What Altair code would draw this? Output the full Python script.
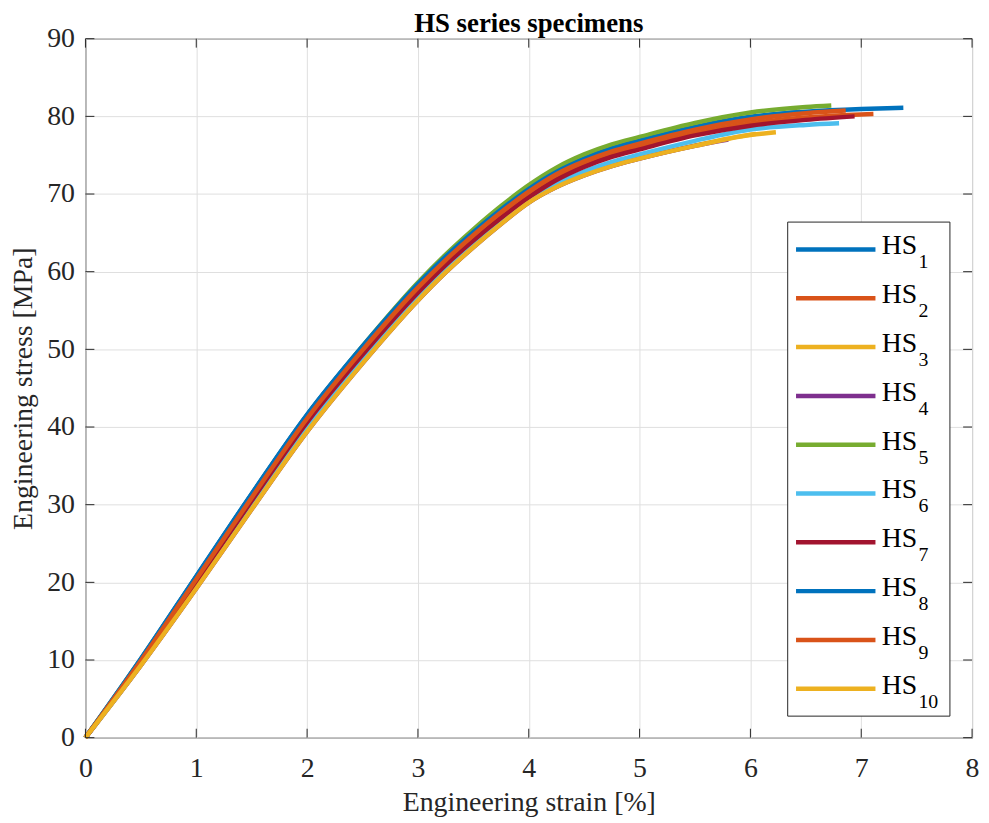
import altair as alt
import pandas as pd

# ---------------- data ----------------
series_names = ["HS1", "HS2", "HS3", "HS4", "HS5", "HS6", "HS7", "HS8", "HS9", "HS10"]
series_subs = ["1", "2", "3", "4", "5", "6", "7", "8", "9", "10"]
series_colors = ["#0072BD", "#D95319", "#EDB120", "#7E2F8E", "#77AC30",
                 "#4DBEEE", "#A2142F", "#0072BD", "#D95319", "#EDB120"]

strain_grid = [0, 0.5, 1.0, 1.5, 2.0, 2.5, 3.0, 3.25, 3.5, 3.75, 4.0,
               4.25, 4.5, 4.75, 5.0, 5.5, 6.0, 6.5, 7.0]

hs1_stress = [0, 10.1, 20.75, 31.35, 41.55, 50.3, 58.3, 61.9, 65.05, 68.0, 70.65,
              72.9, 74.6, 75.9, 76.9, 78.65, 79.95, 80.6, 80.95]
hs2_stress = [0, 9.8, 20.2, 30.7, 40.8, 49.6, 57.6, 61.2, 64.35, 67.25, 69.95,
              72.15, 73.8, 75.1, 76.05, 77.8, 79.1, 79.85, 80.25]
hs3_stress = [0, 9.35, 19.3, 29.5, 39.5, 48.3, 56.35, 59.95, 63.2, 66.2, 68.95,
              70.95, 72.45, 73.65, 74.6, 76.25, 77.65]
hs4_stress = [0, 9.3, 19.2, 29.4, 39.4, 48.2, 56.3, 59.9, 63.15, 66.15, 68.9,
              70.9, 72.4, 73.6, 74.55, 76.2]
hs5_stress = [0, 10.1, 20.7, 31.3, 41.5, 50.4, 58.6, 62.2, 65.45, 68.45, 71.15,
              73.4, 75.1, 76.4, 77.35, 79.15, 80.5, 81.2]
hs6_stress = [0, 9.4, 19.5, 29.8, 39.8, 48.55, 56.6, 60.2, 63.4, 66.35, 69.05,
              71.25, 72.9, 74.15, 75.1, 76.85, 78.3, 78.9]
hs7_stress = [0, 9.7, 20.05, 30.5, 40.6, 49.3, 57.3, 60.85, 64.0, 66.9, 69.55,
              71.8, 73.5, 74.8, 75.75, 77.55, 78.8, 79.55]
hs8_stress = [0, 10.15, 20.8, 31.4, 41.6, 50.4, 58.4, 61.95, 65.1, 68.0, 70.65,
              72.85, 74.5, 75.8, 76.8, 78.55, 79.85]
hs9_stress = [0, 9.9, 20.4, 30.9, 41.1, 49.9, 57.95, 61.5, 64.7, 67.65, 70.3,
              72.55, 74.2, 75.5, 76.5, 78.3, 79.6, 80.4]
hs10_stress = [0, 9.3, 19.2, 29.4, 39.4, 48.2, 56.3, 59.9, 63.15, 66.15, 68.9,
               70.9, 72.4, 73.6, 74.55, 76.2, 77.6]

# final (failure) point of each specimen: strain [%], stress [MPa]
end_strain = [7.38, 7.11, 6.05, 5.80, 6.73, 6.80, 6.94, 6.45, 6.86, 6.23]
end_stress = [81.1, 80.3, 77.75, 77.0, 81.4, 79.1, 80.0, 80.55, 80.75, 77.95]

x_ticks = [0, 1, 2, 3, 4, 5, 6, 7, 8]
y_ticks = [0, 10, 20, 30, 40, 50, 60, 70, 80, 90]

all_stress = [hs1_stress, hs2_stress, hs3_stress, hs4_stress, hs5_stress,
              hs6_stress, hs7_stress, hs8_stress, hs9_stress, hs10_stress]

rows = []
for k, name in enumerate(series_names):
    st = all_stress[k]
    for j, s in enumerate(st):
        rows.append({"series": name, "idx": k, "strain": strain_grid[j], "stress": s})
    rows.append({"series": name, "idx": k, "strain": end_strain[k], "stress": end_stress[k]})
df = pd.DataFrame(rows)

legend_df = pd.DataFrame({"series": series_names, "sub": series_subs,
                          "row": list(range(len(series_names)))})

# ---------------- styling ----------------
W, H = 893, 704
FONT = "Liberation Serif"
INK = "#262626"

x_scale = alt.Scale(domain=[0, 8], nice=False, zero=False)
y_scale = alt.Scale(domain=[0, 90], nice=False, zero=False)
color_scale = alt.Scale(domain=series_names, range=series_colors)

x_axis = alt.Axis(values=x_ticks, title="Engineering strain [%]", grid=True,
                  gridColor="#dfdfdf", gridWidth=1, ticks=False, domain=False,
                  labelFont=FONT, labelFontSize=28, labelColor=INK, labelPadding=17,
                  labelFlush=False, labelOverlap=False,
                  titleFont=FONT, titleFontSize=28, titleFontWeight="normal",
                  titleColor=INK, titlePadding=6)
y_axis = alt.Axis(values=y_ticks, title="Engineering stress [MPa]", grid=True,
                  gridColor="#dfdfdf", gridWidth=1, ticks=False, domain=False,
                  labelFont=FONT, labelFontSize=28, labelColor=INK, labelPadding=11,
                  labelFlush=False, labelOverlap=False,
                  titleFont=FONT, titleFontSize=28, titleFontWeight="normal",
                  titleColor=INK, titlePadding=9)

X = alt.X("strain:Q", scale=x_scale, axis=x_axis)
Y = alt.Y("stress:Q", scale=y_scale, axis=y_axis)

lines = alt.Chart(df).mark_line(strokeWidth=4.5, interpolate="monotone").encode(
    x=X, y=Y,
    color=alt.Color("series:N", scale=color_scale, legend=None),
    order=alt.Order("strain:Q"),
)

xt = pd.DataFrame({"strain": x_ticks})
yt = pd.DataFrame({"stress": y_ticks})
tick_len = 9
bottom_ticks = alt.Chart(xt).mark_rule(color=INK, strokeWidth=1).encode(
    x=X, y=alt.value(H), y2=alt.value(H - tick_len))
top_ticks = alt.Chart(xt).mark_rule(color=INK, strokeWidth=1).encode(
    x=X, y=alt.value(0), y2=alt.value(tick_len))
left_ticks = alt.Chart(yt).mark_rule(color=INK, strokeWidth=1).encode(
    y=Y, x=alt.value(0), x2=alt.value(tick_len))
right_ticks = alt.Chart(yt).mark_rule(color=INK, strokeWidth=1).encode(
    y=Y, x=alt.value(W), x2=alt.value(W - tick_len))

main = alt.layer(lines, bottom_ticks, top_ticks, left_ticks, right_ticks)

# ---------------- legend (inside, boxed, with subscripts) ----------------
row_scale = alt.Scale(domain=[0, 9], range=[212.3, 654.7], nice=False, zero=False)
ROW = alt.Y("row:Q", scale=row_scale, axis=None)

box = alt.Chart(pd.DataFrame({"k": [0]})).mark_rect(
    fill="white", stroke=INK, strokeWidth=1).encode(
    x=alt.value(707.3), x2=alt.value(870.7), y=alt.value(184.7), y2=alt.value(682.3))
leg_lines = alt.Chart(legend_df).mark_rule(strokeWidth=4.5).encode(
    x=alt.value(715.7), x2=alt.value(795.7), y=ROW,
    color=alt.Color("series:N", scale=color_scale, legend=None))
leg_hs = alt.Chart(legend_df).mark_text(
    text="HS", font=FONT, fontSize=28, color="black", align="left",
    baseline="alphabetic", dy=5).encode(x=alt.value(802), y=ROW)
leg_sub = alt.Chart(legend_df).mark_text(
    font=FONT, fontSize=20, color="black", align="left",
    baseline="alphabetic", dy=19).encode(x=alt.value(839), y=ROW, text="sub:N")

legend = alt.layer(box, leg_lines, leg_hs, leg_sub)

chart = alt.layer(main, legend).resolve_scale(y="independent").properties(
    width=W, height=H,
    title=alt.TitleParams("HS series specimens", font=FONT, fontSize=27,
                          fontWeight="bold", color="black", anchor="middle",
                          frame="group", offset=-13),
    padding={"left": 78, "top": 28, "right": 9, "bottom": 80},
    autosize=alt.AutoSizeParams(type="none"),
    background="white",
).configure_view(stroke=INK, strokeWidth=1)

chart.save("out.html", embed_options={"renderer": "svg", "actions": False})
